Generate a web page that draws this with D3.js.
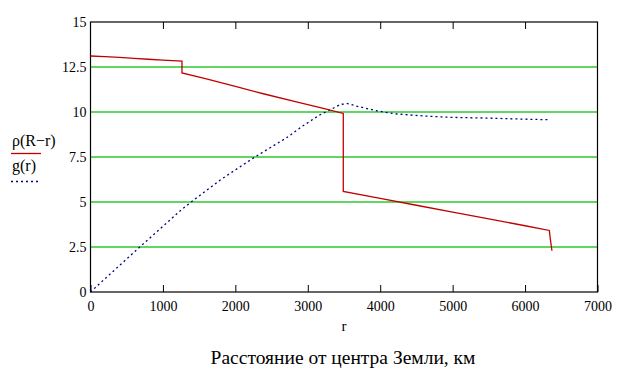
<!DOCTYPE html>
<html>
<head>
<meta charset="utf-8">
<script src="https://cdn.jsdelivr.net/npm/d3@7"></script>
<style>
  body { margin: 0; background: #fff; }
</style>
</head>
<body>
<div id="chart"></div>
<script>
// density rho(R-r), r in km
const rhoR = [0, 200, 400, 600, 800, 1000, 1200, 1263, 1263, 1600, 2000, 2400, 2800, 3200, 3490, 3490, 4000, 4500, 5000, 5500, 6000, 6335, 6350, 6371];
const rhoV = [13.11, 13.08, 13.03, 12.98, 12.93, 12.88, 12.84, 12.83, 12.17, 11.84, 11.42, 11.0, 10.6, 10.21, 9.92, 5.59, 5.2, 4.82, 4.44, 4.06, 3.68, 3.42, 2.9, 2.29];

// gravity g(r)
const gR = [0, 680, 1000, 1263, 1390, 1800, 2270, 2700, 2936, 3170, 3300, 3450, 3550, 3700, 3950, 4200, 4600, 5000, 5500, 6000, 6335];
const gV = [0, 2.5, 3.65, 4.6, 5.0, 6.25, 7.5, 8.55, 9.24, 9.85, 10.1, 10.42, 10.47, 10.3, 10.07, 9.9, 9.78, 9.7, 9.66, 9.6, 9.57];

const xTicks = [0, 1000, 2000, 3000, 4000, 5000, 6000, 7000];
const yTicks = [0, 2.5, 5, 7.5, 10, 12.5, 15];

const FONT = "'Times New Roman', Times, 'Liberation Serif', 'Noto Serif', 'DejaVu Serif', serif";

const W = 631, H = 376;
const margin = {top: 22, right: 33.5, bottom: 84, left: 90.5};
const width = W - margin.left - margin.right,
  height = H - margin.top - margin.bottom;

const svg = d3.select("#chart").append("svg").attr("width", W).attr("height", H);
const g = svg.append("g").attr("transform", "translate(" + margin.left + "," + margin.top + ")");

const x = d3.scaleLinear().domain([0, 7000]).range([0, width]);
const y = d3.scaleLinear().domain([0, 15]).range([height, 0]);

// green grid lines
g.selectAll(".grid").data(yTicks.filter(d => d > 0 && d < 15)).enter().append("line")
  .attr("x1", 0).attr("x2", width)
  .attr("y1", d => y(d)).attr("y2", d => y(d))
  .attr("stroke", "#2ec82e").attr("stroke-width", 1.3);

// bottom axis, ticks point inward
const xb = g.append("g").attr("transform", "translate(0," + height + ")")
  .call(d3.axisBottom(x).tickValues(xTicks).tickSizeInner(-7).tickSizeOuter(0).tickPadding(9).tickFormat(d => String(d)));

// top axis, ticks only
const xt = g.append("g")
  .call(d3.axisTop(x).tickValues(xTicks.slice(1, -1)).tickSizeInner(-7).tickSizeOuter(0).tickFormat(""));

// left axis, labels only
const yl = g.append("g")
  .call(d3.axisLeft(y).tickValues(yTicks).tickSize(0).tickPadding(4).tickFormat(d => String(d)));

[xb, xt, yl].forEach(a => {
  a.attr("font-family", FONT).attr("font-size", 14);
  a.select(".domain").remove();
  a.selectAll("line").attr("stroke", "#000");
  a.selectAll("text").attr("fill", "#000");
});

// frame
g.append("rect").attr("width", width).attr("height", height)
  .attr("fill", "none").attr("stroke", "#000").attr("stroke-width", 1.2);

const line = d3.line().x(d => x(d[0])).y(d => y(d[1]));

g.append("path").datum(gR.map((r, i) => [r, gV[i]]))
  .attr("d", line).attr("fill", "none")
  .attr("stroke", "#000080").attr("stroke-width", 1.3).attr("stroke-dasharray", "2,3");

g.append("path").datum(rhoR.map((r, i) => [r, rhoV[i]]))
  .attr("d", line).attr("fill", "none")
  .attr("stroke", "#c00000").attr("stroke-width", 1.3);

// axis label and title
svg.append("text").attr("x", margin.left + width / 2).attr("y", 331)
  .attr("text-anchor", "middle").attr("font-family", FONT).attr("font-size", 15).text("r");
svg.append("text").attr("x", 343).attr("y", 364)
  .attr("text-anchor", "middle").attr("font-family", FONT).attr("font-size", 19.5).text("Расстояние от центра Земли, км");

// legend
svg.append("text").attr("x", 12).attr("y", 146).attr("font-family", FONT).attr("font-size", 16).text("ρ(R−r)");
svg.append("line").attr("x1", 11).attr("x2", 41).attr("y1", 153.5).attr("y2", 153.5)
  .attr("stroke", "#c00000").attr("stroke-width", 1.3);
svg.append("text").attr("x", 12).attr("y", 171).attr("font-family", FONT).attr("font-size", 16).text("g(r)");
svg.append("line").attr("x1", 11).attr("x2", 38).attr("y1", 181.5).attr("y2", 181.5)
  .attr("stroke", "#000080").attr("stroke-width", 1.3).attr("stroke-dasharray", "2,3");
</script>
</body>
</html>
